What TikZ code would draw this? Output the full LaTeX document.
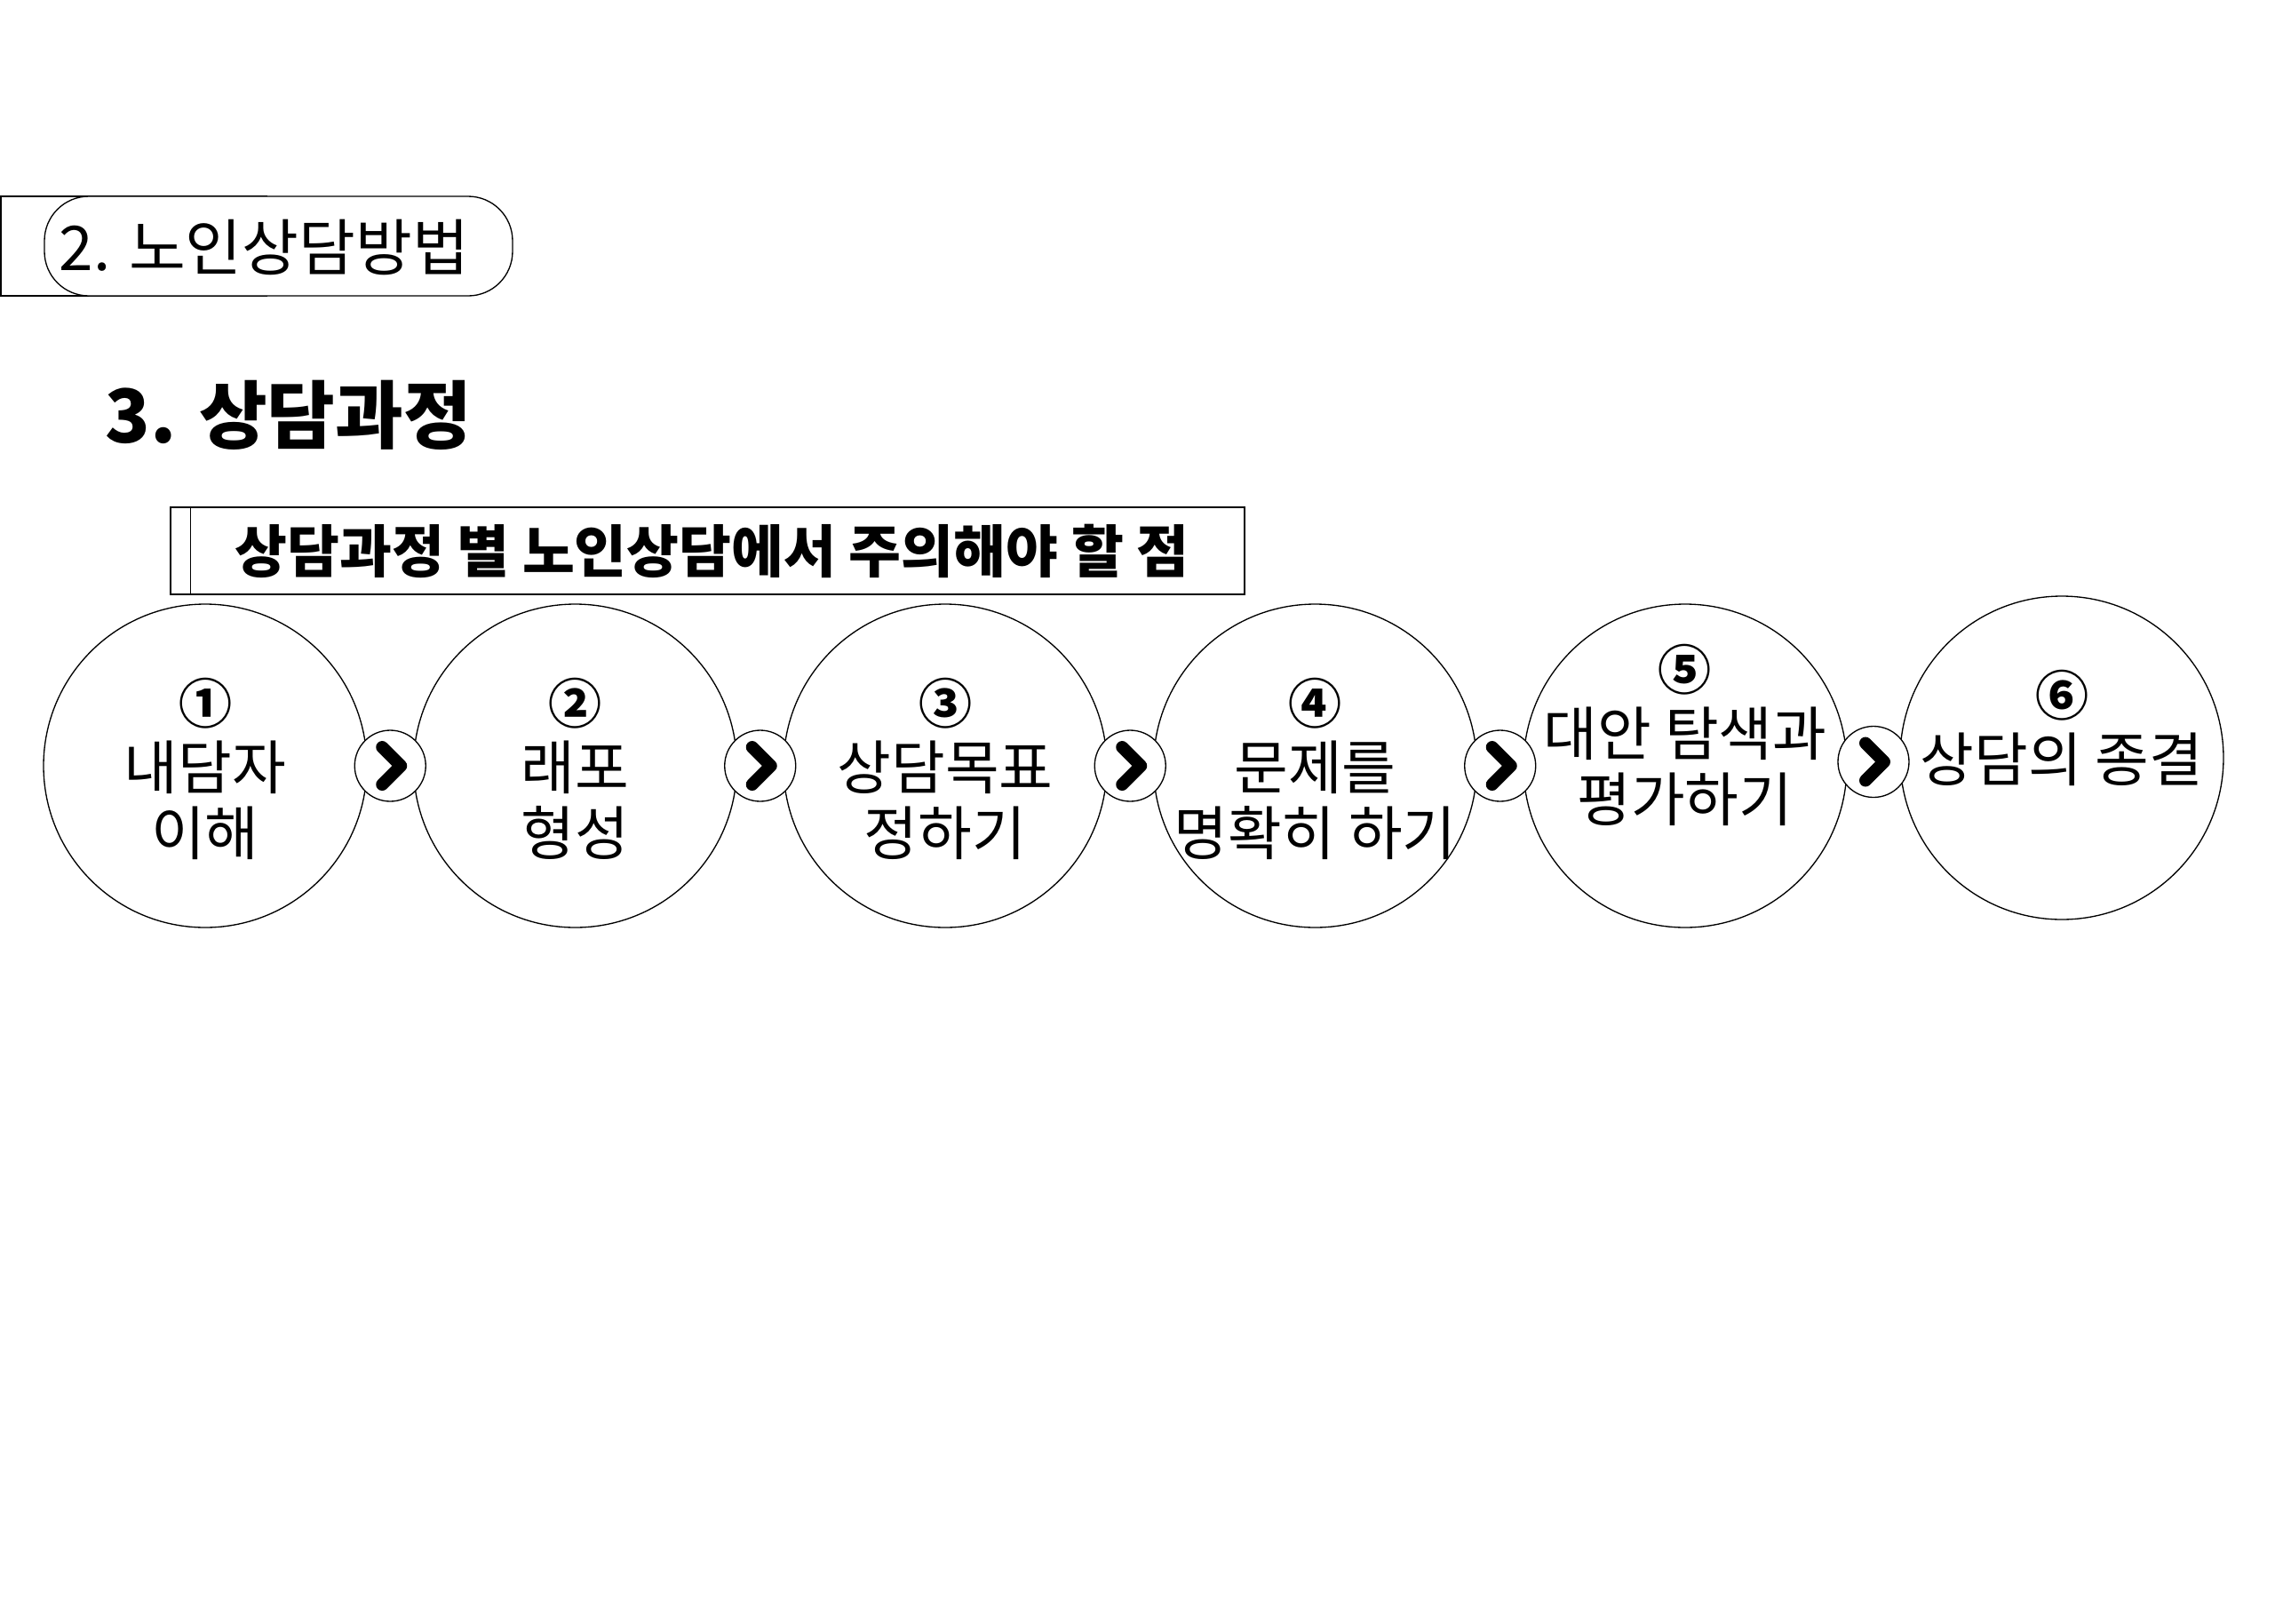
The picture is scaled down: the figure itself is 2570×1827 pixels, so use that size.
\documentclass[tikz,border=0pt]{standalone}
\usepackage{fontspec}
\setmainfont{Noto Sans CJK KR}
\usetikzlibrary{positioning, calc}

\tikzset{
  stage/.style={circle, draw, fill=white, minimum size=109.2pt, inner sep=0pt},
  link/.style={circle, draw, fill=white, minimum size=24pt, inner sep=0pt},
  chev/.style={line width=4.2pt, line cap=round, line join=round},
  stagetext/.style={align=center, inner sep=0pt, font=\fontsize{19.8pt}{22.2pt}\selectfont},
}
\newcommand{\stepno}[1]{{\fontsize{18pt}{18pt}\selectfont\bfseries #1}}

\begin{document}
\begin{tikzpicture}[x=0.3pt, y=-0.3pt]
        \fill[white] (0,0) rectangle (2570,1827);
        \useasboundingbox (0,0) rectangle (2570,1827);

        % section tab
        \draw (1,221) rectangle (300,333);
        \node[draw, fill=white, rounded corners=15pt, minimum width=158.1pt, minimum height=33.6pt, inner sep=0pt] (sec) at (313.5,277) {};
        \node[anchor=west, inner sep=0pt, font=\fontsize{20.8pt}{22pt}\selectfont] (sectext) at (66,278) {2. 노인상담방법};

        \node[anchor=west, inner sep=0pt, font=\fontsize{25pt}{27pt}\selectfont\bfseries] (title) at (118,467) {3. 상담과정};

        \node[draw, minimum width=362.7pt, minimum height=29.4pt, inner sep=0pt, font=\fontsize{19.2pt}{21pt}\selectfont\bfseries] (sub) at (796.5,620) {\hspace{3pt}상담과정 별 노인상담에서 주의해야 할 점};
        \draw ([xshift=6.9pt]sub.north west) -- ([xshift=6.9pt]sub.south west);

        % stages
        \node[stage] (c1) at (231,862) {};
        \node[stage, right=15.35pt of c1] (c2) {};
        \node[stage, right=15.35pt of c2] (c3) {};
        \node[stage, right=15.35pt of c3] (c4) {};
        \node[stage, right=15.35pt of c4] (c5) {};
        \node[stage] (c6) at (2321,853) {};

        \foreach \a/\b [count=\i] in {c1/c2, c2/c3, c3/c4, c4/c5, c5/c6} {
            \node[link] (l\i) at ($(\a)!.5!(\b)$) {};
            \draw[chev] ($(l\i)+(-9,-21)$) -- ($(l\i)+(12,0)$) -- ($(l\i)+(-9,21)$);
        }

        \node[stagetext] (t1) at ($(c1)+(0,3)$) {\stepno{①}\\내담자\\이해};
        \node[stagetext] (t2) at ($(c2)+(0,3)$) {\stepno{②}\\래포\\형성};
        \node[stagetext] (t3) at ($(c3)+(0,3)$) {\stepno{③}\\상담목표\\정하기};
        \node[stagetext] (t4) at ($(c4)+(0,3)$) {\stepno{④}\\문제를\\명확히 하기};
        \node[stagetext] (t5) at ($(c5)+(0,-35)$) {\stepno{⑤}\\대안 탐색과\\평가하기};
        \node[stagetext] (t6) at ($(c6)+(0,-34)$) {\stepno{⑥}\\상담의 종결};
\end{tikzpicture}
\end{document}
